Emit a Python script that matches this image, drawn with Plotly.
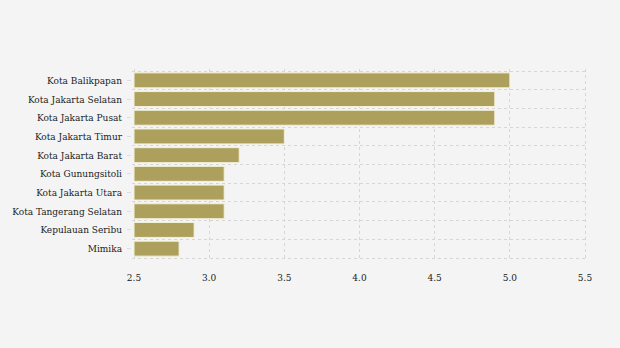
import plotly.graph_objects as go

categories = ["Kota Balikpapan", "Kota Jakarta Selatan", "Kota Jakarta Pusat",
              "Kota Jakarta Timur", "Kota Jakarta Barat", "Kota Gunungsitoli",
              "Kota Jakarta Utara", "Kota Tangerang Selatan", "Kepulauan Seribu", "Mimika"]
values = [5.0, 4.9, 4.9, 3.5, 3.2, 3.1, 3.1, 3.1, 2.9, 2.8]
x_ticks = [2.5, 3.0, 3.5, 4.0, 4.5, 5.0, 5.5]

n = len(categories)
boundaries = [i - 0.5 for i in range(n + 1)]
eps_x = 2 / 150.33
eps_y = 2 / 18.7

fig = go.Figure()
fig.add_trace(go.Bar(
    y=categories, x=[v - 2.5 for v in values], base=2.5, orientation="h",
    marker=dict(color="#ADA05C", line=dict(color="#F4F1DC", width=1)),
    hoverinfo="skip"
))
fig.add_trace(go.Scatter(x=[3.0], y=[0], yaxis="y2", mode="markers",
                         marker=dict(opacity=0), hoverinfo="skip", showlegend=False))

font = "DejaVu Serif Condensed, DejaVu Serif, serif"
fig.update_layout(
    width=620, height=348,
    margin=dict(l=132, r=33, t=69, b=88),
    paper_bgcolor="#F4F4F4", plot_bgcolor="#F4F4F4",
    bargap=0.2, showlegend=False,
    font=dict(family=font, size=10, color="#222222"),
    xaxis=dict(range=[2.5 - eps_x, 5.5 + eps_x], tickvals=x_ticks,
               ticktext=[f"{t:.1f}" for t in x_ticks], automargin=False,
               showgrid=True, gridcolor="#D6D6D6", griddash="dot", gridwidth=1,
               zeroline=False, showline=False, ticks="", ticklabelstandoff=10,
               tickfont=dict(family=font, size=10, color="#222222")),
    yaxis=dict(type="category", categoryarray=categories, categoryorder="array",
               range=[n - 0.5 + eps_y, -0.5 - eps_y], showgrid=False, zeroline=False,
               ticks="outside", ticklen=4, tickcolor="#DDDDDD", automargin=False,
               ticklabelstandoff=3,
               tickfont=dict(family=font, size=10, color="#222222")),
    yaxis2=dict(overlaying="y", range=[n - 0.5 + eps_y, -0.5 - eps_y], tickvals=boundaries,
                showticklabels=False, ticks="", showgrid=True, gridcolor="#D6D6D6",
                griddash="dot", gridwidth=1, zeroline=False, showline=False,
                layer="below traces"),
)
fig.write_html("out.html")
